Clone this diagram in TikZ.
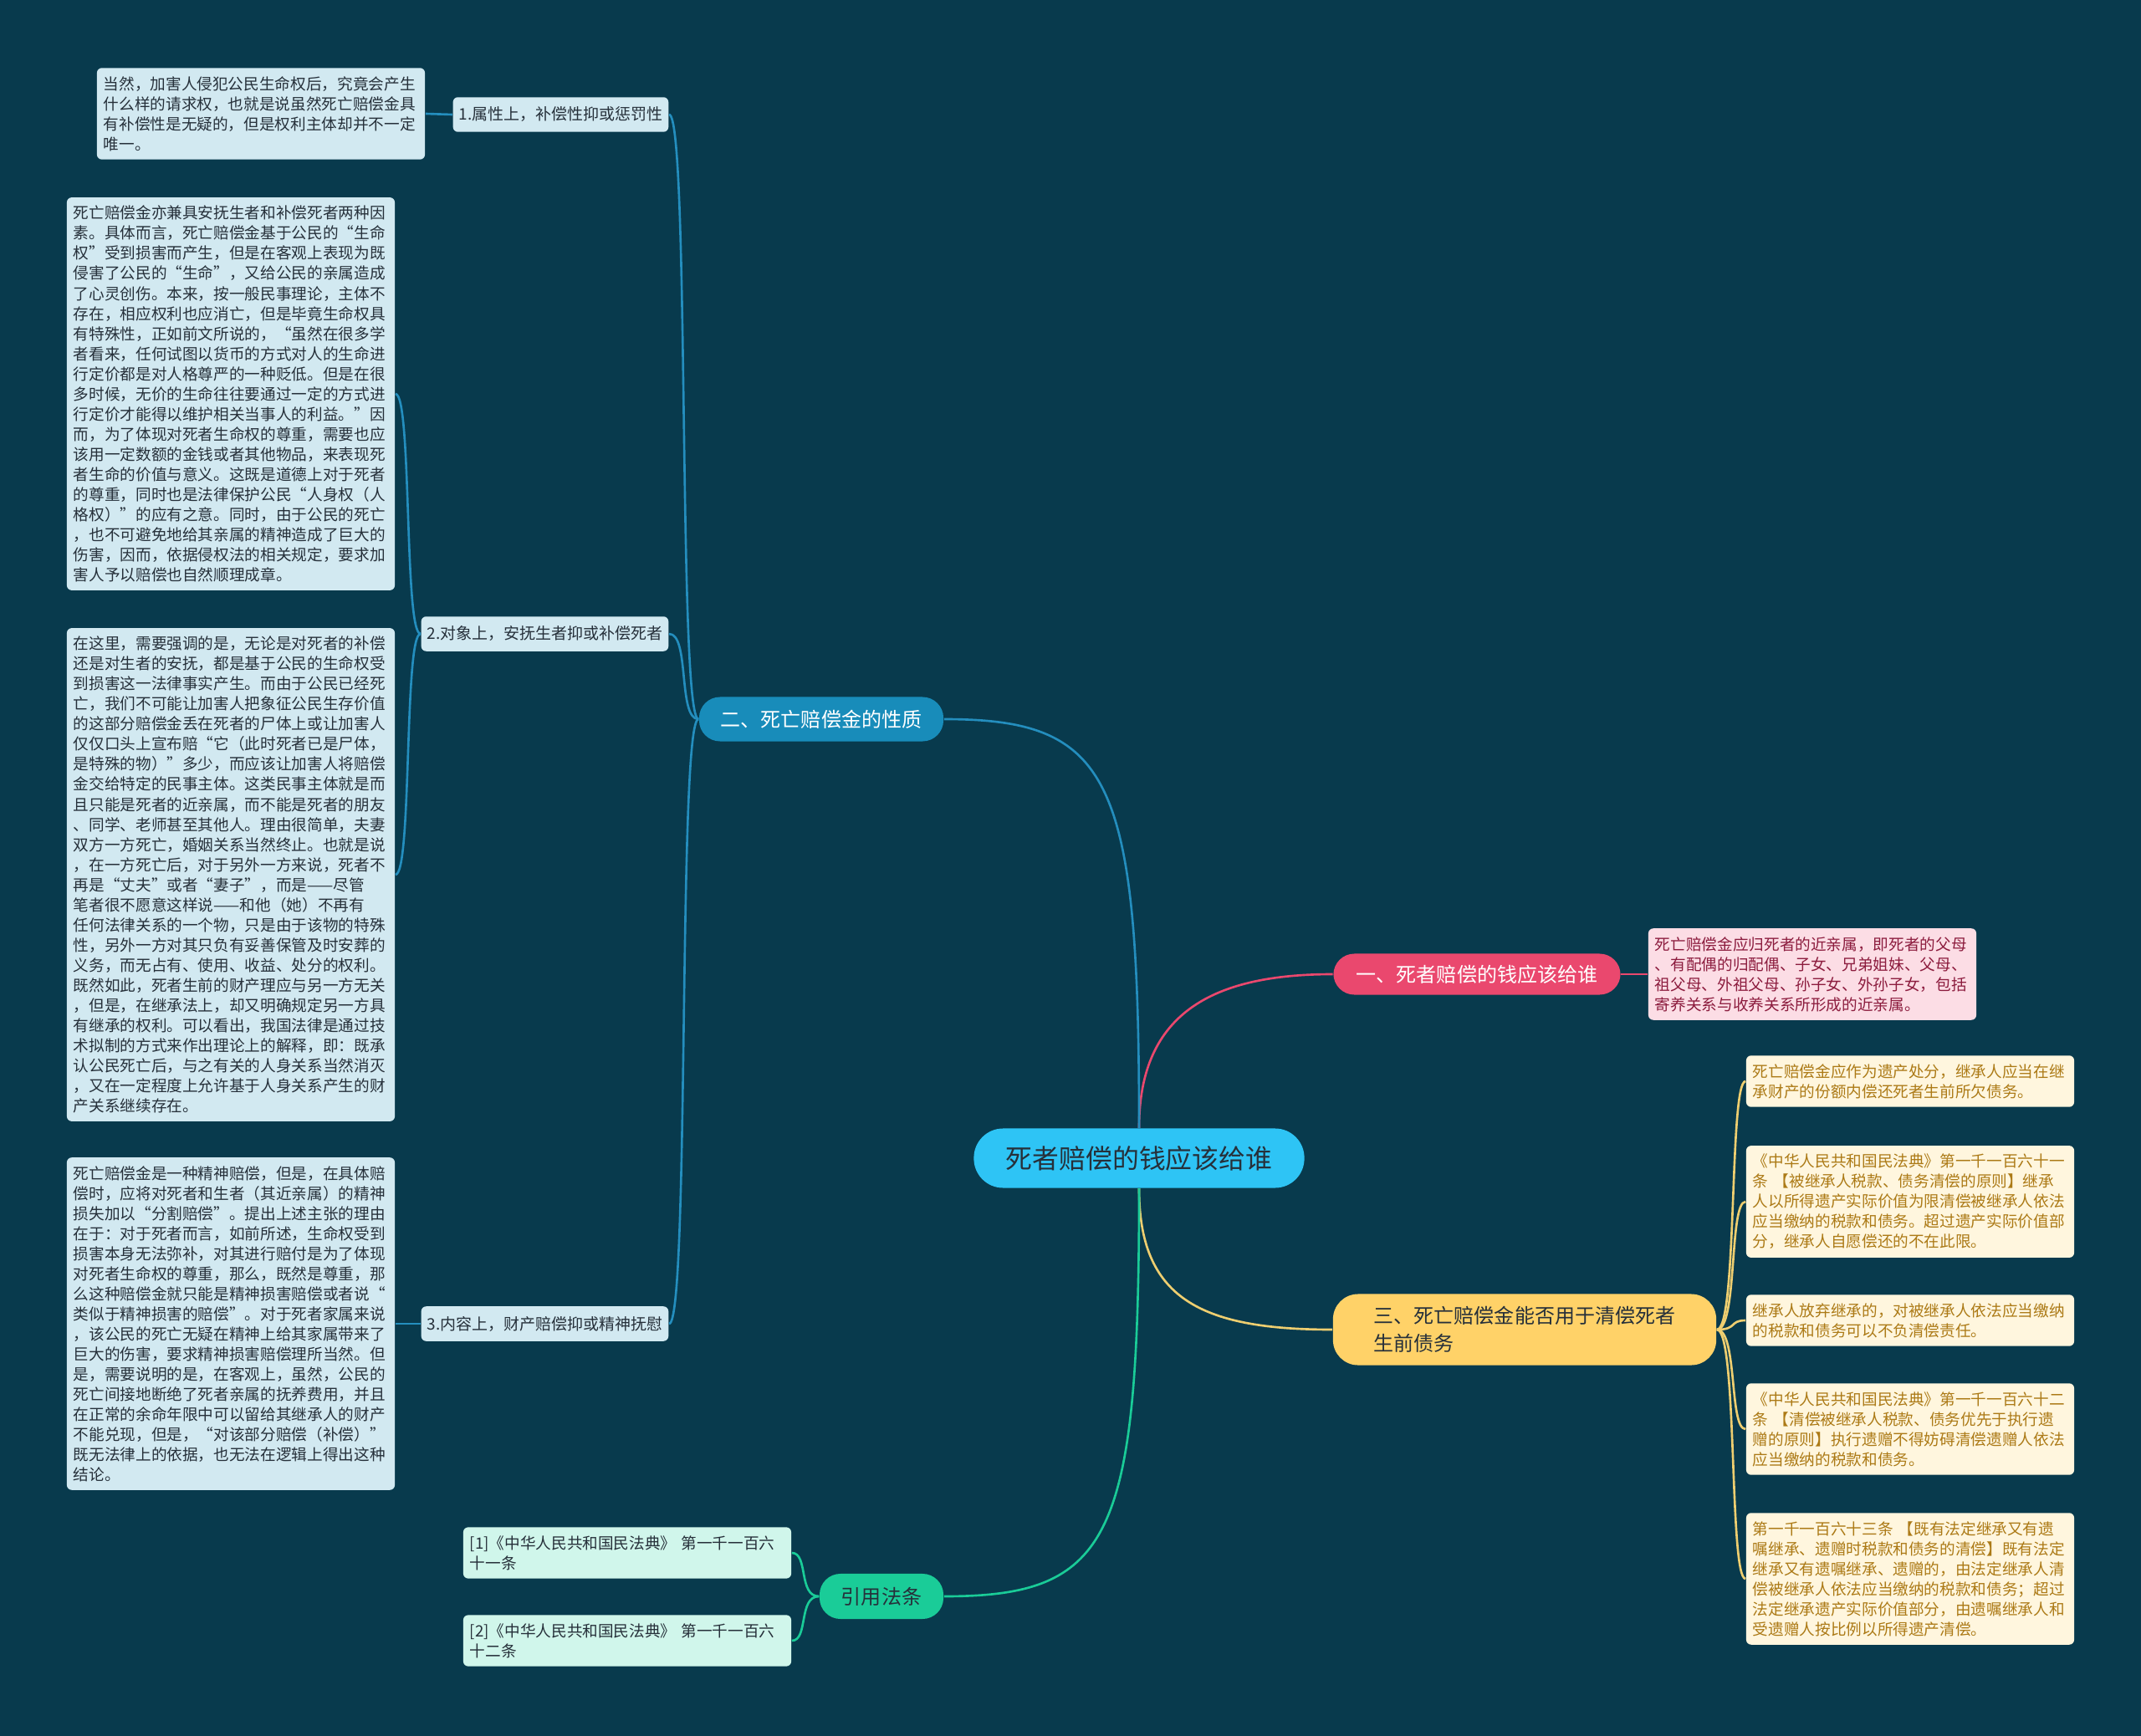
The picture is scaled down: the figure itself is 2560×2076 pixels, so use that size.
\documentclass[tikz,border=0pt]{standalone}
\usepackage{fontspec}
\setmainfont{Noto Sans CJK SC}
\definecolor{bgcol}{RGB}{8,58,77}
\definecolor{rootcol}{RGB}{46,196,245}
\definecolor{bluecol}{RGB}{24,140,186}
\definecolor{bluelin}{RGB}{36,142,190}
\definecolor{pinkcol}{RGB}{234,72,110}
\definecolor{yellcol}{RGB}{255,210,104}
\definecolor{yelllin}{RGB}{238,206,112}
\definecolor{greencol}{RGB}{26,204,152}
\definecolor{leafblue}{RGB}{210,233,241}
\definecolor{leafpink}{RGB}{252,221,229}
\definecolor{leafyell}{RGB}{255,246,222}
\definecolor{leafgreen}{RGB}{208,246,235}
\definecolor{txtdark}{RGB}{38,48,58}
\definecolor{txtpink}{RGB}{140,28,62}
\definecolor{txtyell}{RGB}{172,122,22}
\tikzset{
  leaf/.style={rounded corners=0.06cm, inner xsep=0.08cm, inner ysep=0.1cm,
    text width=3.76cm, align=left, font=\fontsize{5.3pt}{6.83pt}\selectfont},
  sub/.style={fill=leafblue, text=txtdark, rounded corners=0.06cm, inner xsep=0.07cm,
    minimum height=0.39cm, anchor=east, font=\fontsize{5.4pt}{6.8pt}\selectfont},
  main/.style={rounded corners=0.25cm, font=\fontsize{6.83pt}{9.4pt}\selectfont},
  link/.style={line width=0.75pt}
}
\begin{document}
\begin{tikzpicture}[x=0.01cm,y=-0.01cm]
  \useasboundingbox (0,0) rectangle (2560,2076);
  \fill[bgcol] (0,0) rectangle (2560,2076);

  % centre and the four branches
  \node[fill=rootcol, text=txtdark, rounded corners=0.35cm, minimum width=3.95cm,
    minimum height=0.71cm, font=\fontsize{9.05pt}{11pt}\selectfont] (root) at (1362,1385) {死者赔偿的钱应该给谁};
  \node[main, fill=pinkcol, text=white, minimum width=3.43cm, minimum height=0.49cm] (gei) at (1766,1165) {一、死者赔偿的钱应该给谁};
  \node[main, fill=bluecol, text=white, minimum width=2.92cm, minimum height=0.53cm] (xingzhi) at (982,860) {二、死亡赔偿金的性质};
  \node[main, fill=yellcol, text=txtdark, minimum width=4.58cm, minimum height=0.85cm,
    rounded corners=0.3cm, align=left] (qingchang) at (1823,1590) {三、死亡赔偿金能否用于清偿死者\\生前债务};
  \node[main, fill=greencol, text=txtdark, minimum width=1.48cm, minimum height=0.54cm] (fatiao) at (1054,1909) {引用法条};

  \draw[link, pinkcol] (root.north) .. controls +(0,-140) and +(-140,0) .. (gei.west);
  \draw[link, bluelin] (root.north) .. controls +(0,-420) and +(200,0) .. (xingzhi.east);
  \draw[link, yelllin] (root.south) .. controls +(0,130) and +(-160,0) .. (qingchang.west);
  \draw[link, greencol] (root.south) .. controls +(0,420) and +(200,0) .. (fatiao.east);

  % 一
  \node[leaf, fill=leafpink, text=txtpink] (geiA) at (2167,1165) {死亡赔偿金应归死者的近亲属，即死者的父母\\、有配偶的归配偶、子女、兄弟姐妹、父母、\\祖父母、外祖父母、孙子女、外孙子女，包括\\寄养关系与收养关系所形成的近亲属。};
  \draw[link, pinkcol] (gei.east) -- (geiA.west);

  % 二
  \node[sub] (shuxing) at (800,137) {1.属性上，补偿性抑或惩罚性};
  \node[sub] (duixiang) at (800,758) {2.对象上，安抚生者抑或补偿死者};
  \node[sub] (neirong) at (800,1583) {3.内容上，财产赔偿抑或精神抚慰};
  \foreach \n in {shuxing,duixiang,neirong}
    \draw[link, bluelin] (xingzhi.west) .. controls +(-25,0) and +(25,0) .. (\n.east);

  \node[leaf, fill=leafblue, text=txtdark] (shuxingA) at (312,136) {当然，加害人侵犯公民生命权后，究竟会产生\\什么样的请求权，也就是说虽然死亡赔偿金具\\有补偿性是无疑的，但是权利主体却并不一定\\唯一。};
  \node[leaf, fill=leafblue, text=txtdark] (duixiangA) at (276,471) {死亡赔偿金亦兼具安抚生者和补偿死者两种因\\素。具体而言，死亡赔偿金基于公民的“生命\\权”受到损害而产生，但是在客观上表现为既\\侵害了公民的“生命”，又给公民的亲属造成\\了心灵创伤。本来，按一般民事理论，主体不\\存在，相应权利也应消亡，但是毕竟生命权具\\有特殊性，正如前文所说的，“虽然在很多学\\者看来，任何试图以货币的方式对人的生命进\\行定价都是对人格尊严的一种贬低。但是在很\\多时候，无价的生命往往要通过一定的方式进\\行定价才能得以维护相关当事人的利益。”因\\而，为了体现对死者生命权的尊重，需要也应\\该用一定数额的金钱或者其他物品，来表现死\\者生命的价值与意义。这既是道德上对于死者\\的尊重，同时也是法律保护公民“人身权（人\\格权）”的应有之意。同时，由于公民的死亡\\，也不可避免地给其亲属的精神造成了巨大的\\伤害，因而，依据侵权法的相关规定，要求加\\害人予以赔偿也自然顺理成章。};
  \node[leaf, fill=leafblue, text=txtdark] (duixiangB) at (276,1046) {在这里，需要强调的是，无论是对死者的补偿\\还是对生者的安抚，都是基于公民的生命权受\\到损害这一法律事实产生。而由于公民已经死\\亡，我们不可能让加害人把象征公民生存价值\\的这部分赔偿金丢在死者的尸体上或让加害人\\仅仅口头上宣布赔“它（此时死者已是尸体，\\是特殊的物）”多少，而应该让加害人将赔偿\\金交给特定的民事主体。这类民事主体就是而\\且只能是死者的近亲属，而不能是死者的朋友\\、同学、老师甚至其他人。理由很简单，夫妻\\双方一方死亡，婚姻关系当然终止。也就是说\\，在一方死亡后，对于另外一方来说，死者不\\再是“丈夫”或者“妻子”，而是——尽管\\笔者很不愿意这样说——和他（她）不再有\\任何法律关系的一个物，只是由于该物的特殊\\性，另外一方对其只负有妥善保管及时安葬的\\义务，而无占有、使用、收益、处分的权利。\\既然如此，死者生前的财产理应与另一方无关\\，但是，在继承法上，却又明确规定另一方具\\有继承的权利。可以看出，我国法律是通过技\\术拟制的方式来作出理论上的解释，即：既承\\认公民死亡后，与之有关的人身关系当然消灭\\，又在一定程度上允许基于人身关系产生的财\\产关系继续存在。};
  \node[leaf, fill=leafblue, text=txtdark] (neirongA) at (276,1583) {死亡赔偿金是一种精神赔偿，但是，在具体赔\\偿时，应将对死者和生者（其近亲属）的精神\\损失加以“分割赔偿”。提出上述主张的理由\\在于：对于死者而言，如前所述，生命权受到\\损害本身无法弥补，对其进行赔付是为了体现\\对死者生命权的尊重，那么，既然是尊重，那\\么这种赔偿金就只能是精神损害赔偿或者说“\\类似于精神损害的赔偿”。对于死者家属来说\\，该公民的死亡无疑在精神上给其家属带来了\\巨大的伤害，要求精神损害赔偿理所当然。但\\是，需要说明的是，在客观上，虽然，公民的\\死亡间接地断绝了死者亲属的抚养费用，并且\\在正常的余命年限中可以留给其继承人的财产\\不能兑现，但是，“对该部分赔偿（补偿）”\\既无法律上的依据，也无法在逻辑上得出这种\\结论。};

  \draw[link, bluelin] (shuxing.west) -- (shuxingA.east);
  \draw[link, bluelin] (duixiang.west) .. controls +(-20,0) and +(20,0) .. (duixiangA.east);
  \draw[link, bluelin] (duixiang.west) .. controls +(-20,0) and +(20,0) .. (duixiangB.east);
  \draw[link, bluelin] (neirong.west) -- (neirongA.east);

  % 三
  \node[leaf, fill=leafyell, text=txtyell] (qcA) at (2284,1293) {死亡赔偿金应作为遗产处分，继承人应当在继\\承财产的份额内偿还死者生前所欠债务。};
  \node[leaf, fill=leafyell, text=txtyell] (qcB) at (2284,1437) {《中华人民共和国民法典》第一千一百六十一\\条 【被继承人税款、债务清偿的原则】继承\\人以所得遗产实际价值为限清偿被继承人依法\\应当缴纳的税款和债务。超过遗产实际价值部\\分，继承人自愿偿还的不在此限。};
  \node[leaf, fill=leafyell, text=txtyell] (qcC) at (2284,1579) {继承人放弃继承的，对被继承人依法应当缴纳\\的税款和债务可以不负清偿责任。};
  \node[leaf, fill=leafyell, text=txtyell] (qcD) at (2284,1709) {《中华人民共和国民法典》第一千一百六十二\\条 【清偿被继承人税款、债务优先于执行遗\\赠的原则】执行遗赠不得妨碍清偿遗赠人依法\\应当缴纳的税款和债务。};
  \node[leaf, fill=leafyell, text=txtyell] (qcE) at (2284,1888) {第一千一百六十三条 【既有法定继承又有遗\\嘱继承、遗赠时税款和债务的清偿】既有法定\\继承又有遗嘱继承、遗赠的，由法定继承人清\\偿被继承人依法应当缴纳的税款和债务；超过\\法定继承遗产实际价值部分，由遗嘱继承人和\\受遗赠人按比例以所得遗产清偿。};
  \foreach \n in {qcA,qcB,qcC,qcD,qcE}
    \draw[link, yelllin] (qingchang.east) .. controls +(25,0) and +(-20,0) .. (\n.west);

  % 引用法条
  \node[leaf, fill=leafgreen, text=txtdark] (ftA) at (750,1857) {[1]《中华人民共和国民法典》 第一千一百六\\十一条};
  \node[leaf, fill=leafgreen, text=txtdark] (ftB) at (750,1962) {[2]《中华人民共和国民法典》 第一千一百六\\十二条};
  \draw[link, greencol] (fatiao.west) .. controls +(-25,0) and +(20,0) .. (ftA.east);
  \draw[link, greencol] (fatiao.west) .. controls +(-25,0) and +(20,0) .. (ftB.east);
\end{tikzpicture}
\end{document}
